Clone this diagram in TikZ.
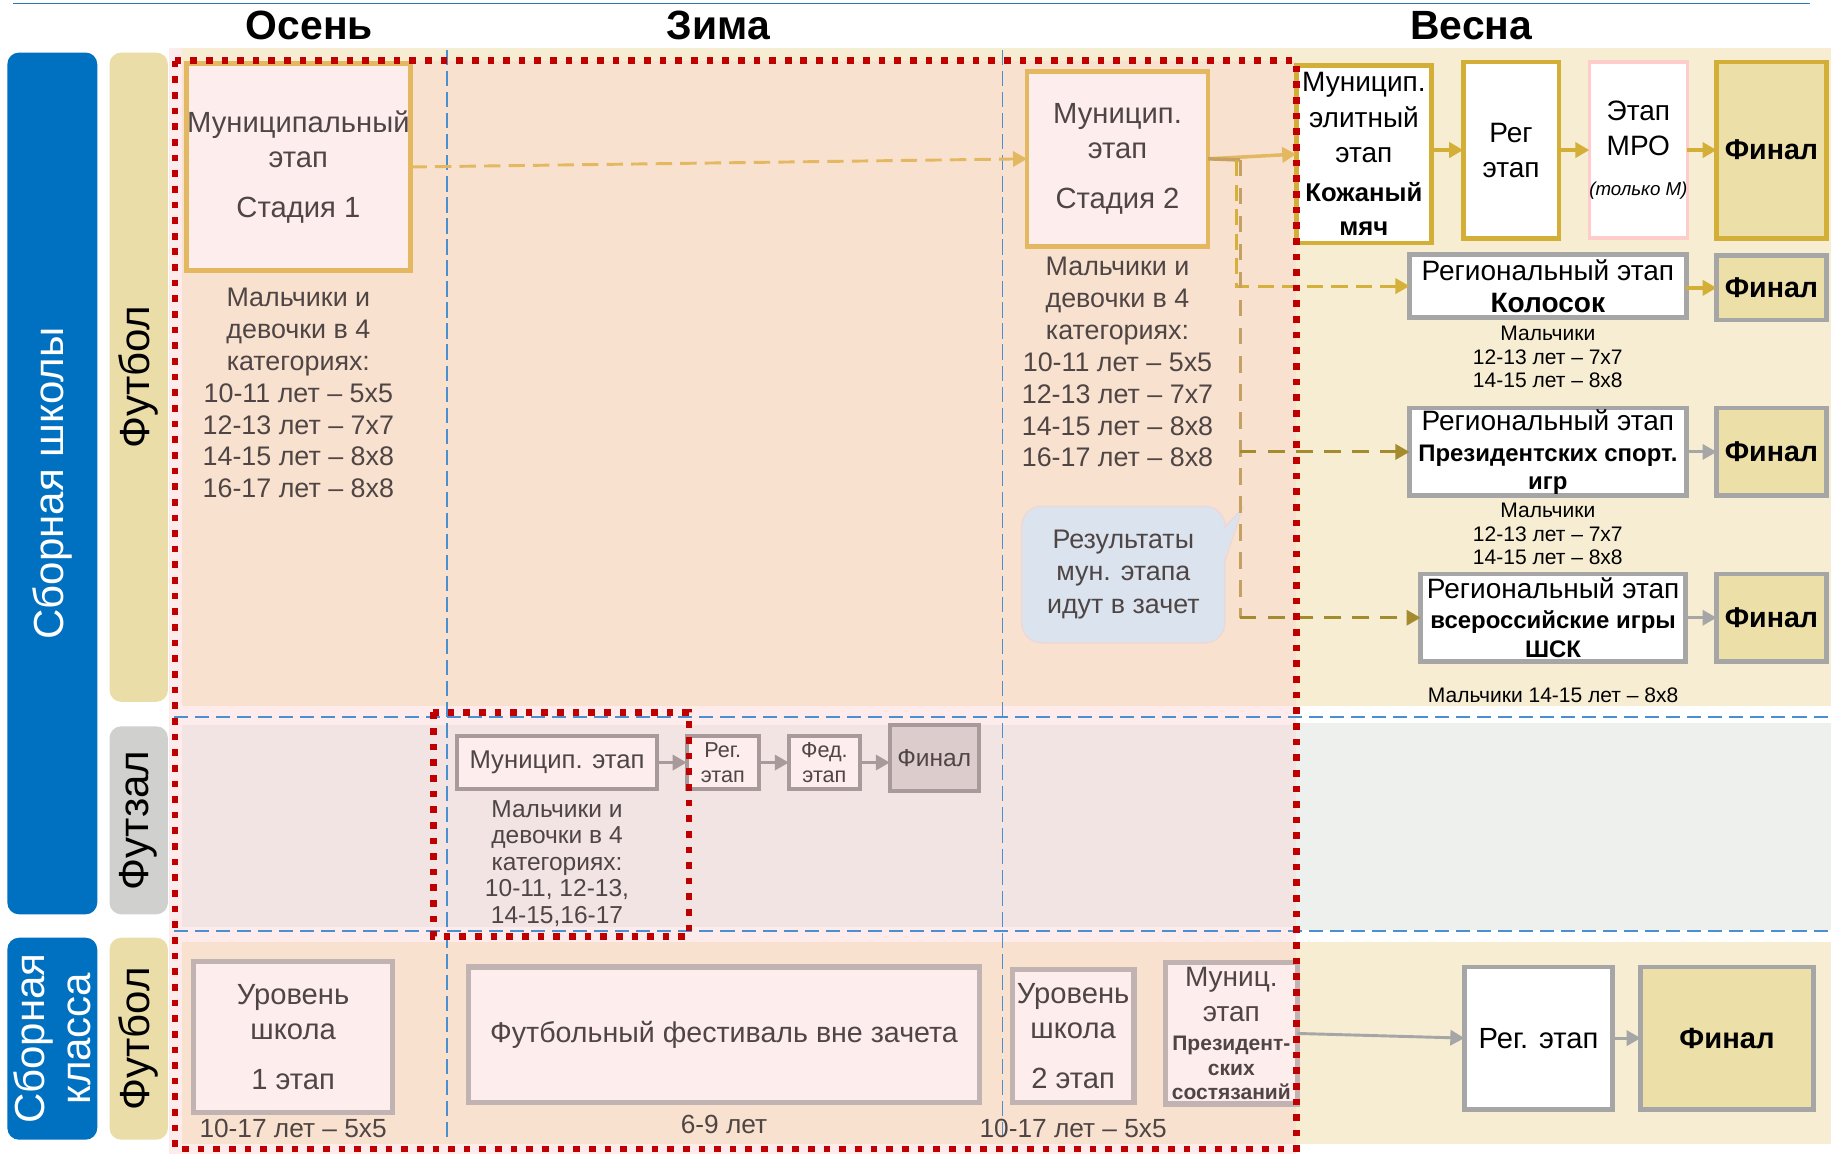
\documentclass[tikz,border=0pt]{standalone}
\usepackage{fontspec}
\setmainfont{Liberation Sans}
\usetikzlibrary{arrows.meta, positioning}
\newcommand{\fsz}[2]{\fontsize{#1}{#2}\selectfont}
\definecolor{peach}{HTML}{F8E2CF}
\definecolor{cream}{HTML}{F6EDD3}
\definecolor{pinkstrip}{HTML}{FDECEB}
\definecolor{rosebg}{HTML}{F3E4E4}
\definecolor{greybg}{HTML}{EEF0EE}
\definecolor{schoolblue}{HTML}{0070C0}
\definecolor{tanbar}{HTML}{EADDA8}
\definecolor{greybar}{HTML}{D0D0CE}
\definecolor{boxpink}{HTML}{FDEDED}
\definecolor{goldA}{HTML}{E3B860}
\definecolor{goldB}{HTML}{D4AF37}
\definecolor{khaki}{HTML}{ECDFA8}
\definecolor{greyline}{HTML}{A6A6A6}
\definecolor{mauve}{HTML}{A89A9A}
\definecolor{mauvefill}{HTML}{DCCCCC}
\definecolor{softline}{HTML}{C2B3B3}
\definecolor{txtgrey}{HTML}{4F4545}
\definecolor{dashblue}{HTML}{4A90D0}
\definecolor{dotred}{HTML}{C00000}
\definecolor{bubblefill}{HTML}{DAE3EE}
\definecolor{bubbleedge}{HTML}{ECD8D8}
\definecolor{tanline}{HTML}{C4A063}
\definecolor{oliveline}{HTML}{A38B2E}
\definecolor{mpoedge}{HTML}{FFCCCC}
\definecolor{topline}{HTML}{2E75B6}

\begin{document}
\begin{tikzpicture}[x=1pt, y=-1pt,
    box/.style={draw, line width=4pt, inner sep=0pt, outer sep=0pt, align=center},
    pbox/.style={box, draw=goldA, fill=boxpink, text=txtgrey, font=\fsz{25}{30}},
    wbox/.style={box, draw=goldB, fill=white, font=\fsz{24}{30}},
    gbox/.style={box, draw=greyline, fill=white, font=\fsz{24}{28}},
    fin/.style={box, fill=khaki, font=\bfseries\fsz{24.5}{28}},
    mbox/.style={box, line width=3.5pt, draw=mauve, fill=boxpink, text=txtgrey},
    sbox/.style={box, line width=4.5pt, draw=softline, fill=boxpink, text=txtgrey, font=\fsz{25}{30}},
    lab/.style={align=center, inner sep=0pt, text=txtgrey},
    bar/.style={rotate=90, rounded corners=10pt, inner sep=0pt, align=center, font=\fsz{36}{40}},
    season/.style={font=\bfseries\fsz{35}{40}},
    callbox/.style={rounded corners=17pt, fill=bubblefill, draw=bubbleedge, line width=1.2pt,
      align=center, text=txtgrey, font=\fsz{23}{27.5}},
    arr/.style={-{Triangle[length=12pt, width=13pt]}, line width=3pt},
    golddash/.style={line width=2.5pt, dash pattern=on 14pt off 7pt},
    tandash/.style={line width=2.5pt, dash pattern=on 14pt off 10pt},
    bluedash/.style={draw=dashblue, line width=2pt, dash pattern=on 12pt off 6pt},
    reddots/.style={draw=dotred, line width=5.7pt, dash pattern=on 5.7pt off 7.7pt}
  ]
  \useasboundingbox (0,0) rectangle (1568,988);
  \draw[topline, line width=1.5pt] (11,3) -- (1550,3);

  % backgrounds
  \fill[pinkstrip] (145,41) rectangle (1110,988);
  \fill[cream] (156,41) rectangle (1568,52);
  \fill[cream] (1110,41) rectangle (1568,605);
  \fill[peach] (156,52) rectangle (1110,605);
  \fill[rosebg] (156,621) rectangle (1110,794);
  \fill[greybg] (1110,619) rectangle (1568,796);
  \fill[peach] (156,807) rectangle (1110,980);
  \fill[cream] (1110,807) rectangle (1568,980);
  \draw[bluedash] (149,614) -- (1568,614);
  \draw[bluedash] (149,797) -- (1568,797);
  \draw[bluedash, line width=1.5pt, dash pattern=on 13pt off 5pt] (383,43) -- (383,977);
  \draw[bluedash, line width=1.5pt, dash pattern=on 13pt off 5pt] (858.5,43) -- (858.5,977);

  % side bars
  \node[bar, fill=schoolblue, text=white, minimum width=738pt, minimum height=77pt]
    (school) at (44.8,414) {Сборная школы};
  \node[bar, fill=schoolblue, text=white, minimum width=173pt, minimum height=77pt]
    (class) at (44.8,889.5) {Сборная\\класса};
  \node[bar, fill=tanbar, minimum width=556pt, minimum height=50pt]
    (foot) at (118.8,323) {Футбол};
  \node[bar, fill=greybar, minimum width=161pt, minimum height=50pt]
    (futsal) at (118.8,702.5) {Футзал};
  \node[bar, fill=tanbar, minimum width=173pt, minimum height=50pt]
    (foot2) at (118.8,889.5) {Футбол};

  % seasons
  \node[season] (autumn) at (265,22) {Осень};
  \node[season] (winter) at (615,22) {Зима};
  \node[season] (spring) at (1260,22) {Весна};

  % football, school team
  \node[pbox, minimum width=192pt, minimum height=177pt] (m1) at (255.5,143)
    {Муниципальный\\этап\\[13pt]Стадия 1};
  \node[lab, font=\fsz{23}{27.3}, below=15pt of m1] (m1cat)
    {Мальчики и\\девочки в 4\\категориях:\\10-11 лет – 5x5\\12-13 лет – 7x7\\
     14-15 лет – 8x8\\16-17 лет – 8x8};
  \node[pbox, minimum width=155pt, minimum height=150pt] (m2) at (957,136)
    {Муницип.\\этап\\[13pt]Стадия 2};
  \node[lab, font=\fsz{23}{27.3}, below=9pt of m2] (m2cat)
    {Мальчики и\\девочки в 4\\категориях:\\10-11 лет – 5x5\\12-13 лет – 7x7\\
     14-15 лет – 8x8\\16-17 лет – 8x8};
  \node[callbox, minimum width=174pt, minimum height=117pt] (note) at (962,492)
    {Результаты\\мун. этапа\\идут в зачет};
  \fill[bubblefill] (1047,452) -- (1064,435) -- (1047,482) -- cycle;
  \draw[bubbleedge, line width=1.2pt] (1048.5,452) -- (1064,435) -- (1048.5,482);

  \node[wbox, minimum width=116pt, minimum height=152pt] (kozh) at (1168,132)
    {Муницип.\\элитный\\этап\\[4pt]{\bfseries\fsz{22}{26}Кожаный}\\[-1pt]{\bfseries\fsz{22}{26}мяч}};
  \node[wbox, minimum width=82pt, minimum height=151pt] (reg1) at (1294,128.5)
    {Рег\\этап};
  \node[wbox, draw=mpoedge, line width=3pt, minimum width=82pt, minimum height=151pt]
    (mpo) at (1403,128.5) {Этап\\МРО\\[4pt]{\itshape\fsz{16}{20}(только М)}};
  \node[fin, draw=goldB, minimum width=94pt, minimum height=151pt] (fin1) at (1517,128.5) {Финал};

  \node[gbox, minimum width=237pt, minimum height=54pt] (kolos) at (1325.5,245)
    {Региональный этап\\\textbf{Колосок}};
  \node[fin, draw=greyline, minimum width=94pt, minimum height=55pt] (fin2) at (1517,246.5) {Финал};
  \node[lab, text=black, font=\fsz{18}{20.3}, below=7pt of kolos] (kolcat)
    {Мальчики\\12-13 лет – 7x7\\14-15 лет – 8x8};

  \node[gbox, minimum width=237pt, minimum height=75pt] (prez) at (1325.5,387)
    {Региональный этап\\[-2pt]{\bfseries\fsz{20.5}{24}Президентских спорт.}\\[-4pt]{\bfseries\fsz{20.5}{22}игр}};
  \node[fin, draw=greyline, minimum width=94pt, minimum height=75pt] (fin3) at (1517,387) {Финал};
  \node[lab, text=black, font=\fsz{18}{20.3}, below=6pt of prez] (prezcat)
    {Мальчики\\12-13 лет – 7x7\\14-15 лет – 8x8};

  \node[gbox, minimum width=227pt, minimum height=75pt] (shsk) at (1330,529)
    {Региональный этап\\[-2pt]{\bfseries\fsz{20.5}{25}всероссийские игры}\\[-3pt]{\bfseries\fsz{20.5}{23}ШСК}};
  \node[fin, draw=greyline, minimum width=94pt, minimum height=75pt] (fin4) at (1517,529) {Финал};
  \node[lab, text=black, font=\fsz{18}{20.3}, below=22pt of shsk] (shskcat)
    {Мальчики 14-15 лет – 8x8};

  % futsal
  \node[mbox, font=\fsz{22}{26}, minimum width=172pt, minimum height=46pt] (fz1) at (477,653)
    {Муницип. этап};
  \node[lab, font=\fsz{21}{22.6}, below=9.5pt of fz1] (fzcat)
    {Мальчики и\\девочки в 4\\категориях:\\10-11, 12-13,\\14-15,16-17};
  \node[mbox, font=\fsz{18.5}{21.6}, minimum width=62pt, minimum height=46pt] (fz2) at (619,653)
    {Рег.\\этап};
  \node[mbox, font=\fsz{18.5}{21.6}, minimum width=61pt, minimum height=46pt] (fz3) at (706,653)
    {Фед.\\этап};
  \node[mbox, fill=mauvefill, font=\fsz{21}{25}, minimum width=76pt, minimum height=56pt]
    (fz4) at (800,649) {Финал};

  % football, class team
  \node[sbox, minimum width=170pt, minimum height=129pt] (k1) at (251,888)
    {Уровень\\школа\\[13pt]1 этап};
  \node[lab, font=\fsz{22.5}{26}, below=6pt of k1] (k1cat) {10-17 лет – 5x5};
  \node[sbox, font=\fsz{24.5}{30}, minimum width=437pt, minimum height=116pt] (fest) at (620,886)
    {Футбольный фестиваль вне зачета};
  \node[lab, font=\fsz{22.5}{26}, below=11pt of fest] (festcat) {6-9 лет};
  \node[sbox, minimum width=104pt, minimum height=114pt] (k2) at (919,887)
    {Уровень\\школа\\[13pt]2 этап};
  \node[lab, font=\fsz{22.5}{26}, below=14pt of k2] (k2cat) {10-17 лет – 5x5};
  \node[sbox, font=\fsz{24}{30}, minimum width=113pt, minimum height=121pt] (k3) at (1054.5,885)
    {Муниц.\\этап\\[-5pt]{\bfseries\fsz{18}{22}Президент-}\\[-9pt]{\bfseries\fsz{18}{21}ских}\\[-9pt]
     {\bfseries\fsz{18}{21}состязаний}};
  \node[gbox, font=\fsz{25}{30}, minimum width=127pt, minimum height=122pt] (k4) at (1317.5,889)
    {Рег. этап};
  \node[fin, draw=greyline, font=\bfseries\fsz{25}{30}, minimum width=148pt, minimum height=122pt]
    (k5) at (1479,889) {Финал};

  % connectors
  \coordinate (jg) at (1059,137);
  \coordinate (jt) at (1062,137);
  \draw[arr, golddash, goldA] (m1.east) -- (m2.west);
  \draw[arr, goldA] (m2.east) -- (kozh.west);
  \draw[tanline, line width=3pt] (m2.east) -- (jt);
  \draw[arr, golddash, goldB!90!goldA] (jg) |- (kolos.west);
  \draw[tandash, tanline] (jt) -- (jt |- shsk.west);
  \draw[arr, tandash, oliveline] (jt |- prez.west) -- (prez.west);
  \draw[arr, tandash, oliveline] (jt |- shsk.west) -- (shsk.west);
  \draw[arr, goldB] (kozh.east |- reg1.west) -- (reg1.west);
  \draw[arr, goldB] (reg1) -- (mpo);
  \draw[arr, goldB] (mpo) -- (fin1);
  \draw[arr, goldB] (kolos.east |- fin2.west) -- (fin2.west);
  \draw[arr, greyline, line width=2.5pt] (prez) -- (fin3);
  \draw[arr, greyline, line width=2.5pt] (shsk) -- (fin4);
  \draw[arr, mauve, line width=2.5pt] (fz1) -- (fz2);
  \draw[arr, mauve, line width=2.5pt] (fz2) -- (fz3);
  \draw[arr, mauve, line width=2.5pt] (fz3.east) -- (fz4.west |- fz3.east);
  \draw[arr, greyline, line width=2.5pt] (k3.east) -- (k4.west);
  \draw[arr, greyline, line width=2.5pt] (k4) -- (k5);

  % dotted frames
  \draw[reddots] (150,52) rectangle (1110,984);
  \draw[reddots] (371,610) rectangle (590,802);
\end{tikzpicture}
\end{document}
